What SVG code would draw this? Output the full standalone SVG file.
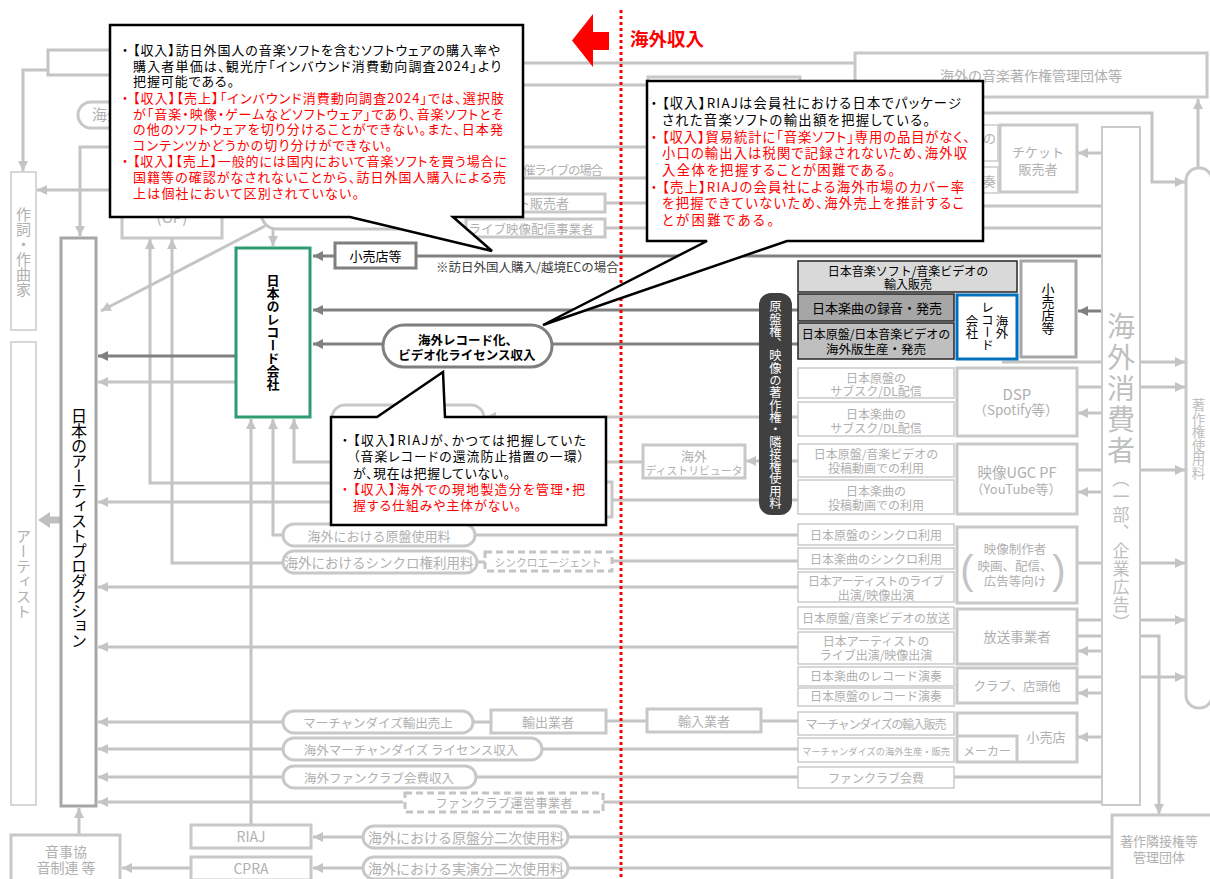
<svg xmlns="http://www.w3.org/2000/svg" width="1210" height="879" viewBox="0 0 1210 879">
<style>
text{font-family:"Noto Sans CJK JP","Noto Sans",sans-serif}
.l{fill:none;stroke:#c4c4c4;stroke-width:3}
.la{fill:none;stroke:#c4c4c4;stroke-width:3;marker-end:url(#ma)}
.d{fill:none;stroke:#808080;stroke-width:3}
.da{fill:none;stroke:#808080;stroke-width:3;marker-end:url(#md)}
.bx{fill:#fff;stroke:#c8c8c8;stroke-width:3}
.bt{fill:#fff;stroke:#cacaca;stroke-width:1.5}
.ds{fill:#fff;stroke:#c4c4c4;stroke-width:3;stroke-dasharray:7 4}
.g{fill:#b0b0b0}
.c{text-anchor:middle}
.v{writing-mode:vertical-rl;text-anchor:middle}
.co{fill:#fff;stroke:#000;stroke-width:2.5}
.ct{font-feature-settings:"palt" 1}
.r{fill:#ff0000}
</style>
<defs>
<marker id="ma" viewBox="0 0 10 10" refX="10" refY="5" markerWidth="10" markerHeight="10" markerUnits="userSpaceOnUse" orient="auto"><path d="M0,0L10,5L0,10z" fill="#c4c4c4"/></marker>
<marker id="md" viewBox="0 0 10 10" refX="10" refY="5" markerWidth="10" markerHeight="10" markerUnits="userSpaceOnUse" orient="auto"><path d="M0,0L10,5L0,10z" fill="#808080"/></marker>
</defs>
<rect width="1210" height="879" fill="#fff"/>

<g id="connectors">
<path class="l" d="M855 63H400V50H48V75H400V85H648"/>
<path class="la" d="M48 70H23V171"/>
<path class="la" d="M647 147H80V236"/>
<path class="la" d="M647 178H400V190H37"/>
<path class="l" d="M647 203H600"/>
<path class="l" d="M647 228H600"/>
<path class="l" d="M466 229H277Q261 229 259 205"/>
<path class="la" d="M265 226L101 311"/>
<path class="la" d="M273 229V246"/>
<path class="la" d="M560 483H150V239"/>
<path class="la" d="M283 563H172V239"/>
<path class="la" d="M236 382H98"/>
<path class="la" d="M560 502H98"/>
<path class="la" d="M798 587H98"/>
<path class="la" d="M798 647H98"/>
<path class="la" d="M283 722H98"/>
<path class="la" d="M283 749H98"/>
<path class="la" d="M283 777H98"/>
<path class="la" d="M403 802H98"/>
<path class="la" d="M79 835V808"/>
<path class="la" d="M191 868H122"/>
<path class="la" d="M251 825V419"/>
<path class="la" d="M283 535H273V419"/>
<path class="la" d="M643 462H294V419"/>
<path class="la" d="M798 461H746"/>
<path class="la" d="M798 417H486"/>
<path class="l" d="M798 500H612"/>
<path class="l" d="M798 535H475"/>
<path class="l" d="M798 561H612M485 562H477"/>
<path class="l" d="M473 722H491M606 721H647M761 721H798"/>
<path class="l" d="M542 749H798M476 777H798M603 802H1102M954 777H1102"/>
<path class="l" d="M568 837H1112M568 868H1112"/>
<path class="la" d="M363 837H313"/>
<path class="la" d="M363 868H313"/>
<path class="la" d="M1102 153H1078"/>
<path class="la" d="M900 113H1152V182H1185"/>
<path class="la" d="M1198 168V99"/>
<path class="l" d="M900 206H1102M900 228H1102"/>
<path class="la" d="M1002 362H1185"/>
<path class="la" d="M1077 387H1185"/>
<path class="la" d="M1102 413H1078"/>
<path class="la" d="M1077 470H1185"/>
<path class="la" d="M1102 492H1078"/>
<path class="la" d="M1077 563H1185"/>
<path class="la" d="M1077 620H1185"/>
<path class="la" d="M1077 636H1159V814"/>
<path class="la" d="M1102 651H1078"/>
<path class="la" d="M1077 677H1185"/>
<path class="la" d="M1102 693H1078"/>
<path class="la" d="M1102 737H1078"/>
<path class="da" d="M335 256H313"/>
<path class="d" d="M417 256H1102"/>
<path class="da" d="M798 310H313"/>
<path class="d" d="M552 344H798"/>
<path class="da" d="M383 344H313"/>
<path class="da" d="M1102 311H1078"/>
<path class="da" d="M236 356H98"/>
</g>

<g id="lyricist"><rect class="bt" x="11" y="172" width="25" height="158"/><text class="g v" x="23.5" y="252" font-size="15">作詞・作曲家</text></g>
<g id="artist"><rect class="bt" x="11" y="342" width="25" height="463"/><text class="g v" x="23.5" y="574" font-size="15">アーティスト</text>
<polygon points="38,520 50,512 50,516.5 61,516.5 61,523.5 50,523.5 50,528" fill="#bfbfbf"/></g>
<g id="production"><rect x="61" y="238" width="35" height="568" fill="#fff" stroke="#a6a6a6" stroke-width="3"/><text class="v" x="79" y="528" font-size="16" letter-spacing="-1" fill="#000">日本のアーティストプロダクション</text></g>
<g id="onjikyo"><rect class="bx" x="11" y="835" width="109" height="60"/><text class="g c" x="66" y="857" font-size="14">音事協</text><text class="g c" x="66" y="873" font-size="14">音制連 等</text></g>
<g id="riaj"><rect class="bx" x="191" y="825" width="120" height="23"/><text class="g c" x="251" y="842" font-size="14">RIAJ</text></g>
<g id="cpra"><rect class="bx" x="191" y="857" width="120" height="23"/><text class="g c" x="251" y="874" font-size="14">CPRA</text></g>
<g id="op"><rect class="bx" x="122" y="170" width="100" height="68"/><text class="g c" x="172" y="223" font-size="15">(OP)</text></g>
<g id="pill-top"><rect class="bx" x="78" y="102" width="120" height="26" rx="13"/><text class="g" x="92" y="120" font-size="15">海外</text></g>
<g id="ticket-seller-left"><rect class="bx" x="440" y="194" width="165" height="18"/><text class="g" x="569" y="208" font-size="13" text-anchor="end">ト販売者</text></g>
<g id="live-stream"><rect class="bx" x="466" y="219" width="139" height="18"/><text class="g c" x="531" y="233.5" font-size="12.5">ライブ映像配信事業者</text></g>
<g id="label-live"><text class="g" x="603" y="175" font-size="12.5" text-anchor="end" textLength="80">催ライブの場合</text></g>
<g id="label-ec"><text x="436" y="272" font-size="12.5" fill="#404040">※訪日外国人購入/越境ECの場合</text></g>
<g id="retail-left"><rect x="335" y="243" width="81" height="25" fill="#fff" stroke="#7f7f7f" stroke-width="3"/><text class="c" x="375.5" y="260.5" font-size="13">小売店等</text></g>
<g id="record-co"><rect x="236" y="248" width="74" height="169" fill="#fff" stroke="#2e9b70" stroke-width="3"/><text class="v" x="273" y="332" font-size="13" font-weight="bold">日本のレコード会社</text></g>
<g id="license"><rect x="383" y="325" width="169" height="42" rx="21" fill="#fff" stroke="#7f7f7f" stroke-width="3"/><text class="c" x="468" y="345" font-size="12.5" font-weight="bold">海外レコード化、</text><text class="c" x="467" y="360" font-size="12.5" font-weight="bold">ビデオ化ライセンス収入</text></g>
<g id="hidden-pill"><rect class="bx" x="332" y="405" width="152" height="26" rx="13"/></g>
<g id="hidden-box"><rect class="bx" x="560" y="482" width="52" height="35"/></g>
<g id="distributor"><rect class="bx" x="643" y="445" width="102" height="33"/><text class="g c" x="694" y="461" font-size="13">海外</text><text class="g c" x="694" y="474.5" font-size="11" textLength="97" lengthAdjust="spacingAndGlyphs">ディストリビュータ</text></g>
<g id="pill-master"><rect class="bx" x="283" y="524" width="192" height="22" rx="11"/><text class="g c" x="379" y="541" font-size="13">海外における原盤使用料</text></g>
<g id="pill-sync"><rect class="bx" x="283" y="551" width="194" height="22" rx="11"/><text class="g c" x="379" y="568" font-size="13.5">海外におけるシンクロ権利用料</text></g>
<g id="sync-agent"><rect class="ds" x="485" y="552" width="127" height="19"/><text class="g c" x="548" y="566.5" font-size="11" textLength="107" lengthAdjust="spacingAndGlyphs">シンクロエージェント</text></g>
<g id="pill-merch"><rect class="bx" x="283" y="711" width="190" height="22" rx="11"/><text class="g c" x="378" y="727.5" font-size="12.5">マーチャンダイズ輸出売上</text></g>
<g id="exporter"><rect class="bx" x="491" y="710" width="115" height="23"/><text class="g c" x="548" y="726.5" font-size="13">輸出業者</text></g>
<g id="importer"><rect class="bx" x="647" y="709" width="114" height="23"/><text class="g c" x="704" y="725.5" font-size="13">輸入業者</text></g>
<g id="pill-merch-license"><rect class="bx" x="283" y="738" width="259" height="22" rx="11"/><text class="g c" x="411" y="754.5" font-size="12.5">海外マーチャンダイズ ライセンス収入</text></g>
<g id="pill-fanclub"><rect class="bx" x="283" y="766" width="193" height="22" rx="11"/><text class="g c" x="379" y="782.5" font-size="12.5">海外ファンクラブ会費収入</text></g>
<g id="fanclub-op"><rect class="ds" x="405" y="793" width="198" height="19"/><text class="g c" x="504" y="808" font-size="12.5">ファンクラブ運営事業者</text></g>
<g id="pill-sec-master"><rect class="bx" x="363" y="826" width="205" height="22" rx="11"/><text class="g c" x="466" y="843" font-size="14">海外における原盤分二次使用料</text></g>
<g id="pill-sec-perf"><rect class="bx" x="363" y="857" width="205" height="22" rx="11"/><text class="g c" x="466" y="874" font-size="14">海外における実演分二次使用料</text></g>

<g id="rights-pill"><rect x="759" y="293" width="33" height="222" rx="12" fill="#404040"/><text class="v" x="775.5" y="405" font-size="12.3" fill="#fff">原盤権、映像の著作権・隣接権使用料</text></g>

<g id="hidden-top-box"><rect class="bx" x="648" y="77" width="152" height="50"/></g>
<g id="overseas-jasrac"><rect class="bx" x="855" y="53" width="352" height="44"/><text class="g c" x="1031" y="81" font-size="14">海外の音楽著作権管理団体等</text></g>
<g id="small-a"><rect class="bt" x="800" y="125" width="198" height="36"/><text class="g" x="996" y="143" font-size="13" text-anchor="end">の</text></g>
<g id="small-b"><rect class="bt" x="800" y="167" width="198" height="26"/><text class="g" x="996" y="186" font-size="13" text-anchor="end">奏</text></g>
<g id="ticket"><rect class="bx" x="1000" y="125" width="77" height="67"/><text class="g c" x="1038" y="157" font-size="13">チケット</text><text class="g c" x="1038" y="174" font-size="13">販売者</text></g>

<g id="import-sale"><rect x="798" y="261" width="219" height="31" fill="#d9d9d9" stroke="#262626" stroke-width="1.5"/><text class="c" x="908" y="276" font-size="12">日本音楽ソフト/音楽ビデオの</text><text class="c" x="908" y="289" font-size="12">輸入販売</text></g>
<g id="recording"><rect x="798" y="294" width="156" height="27" fill="#a6a6a6" stroke="#262626" stroke-width="1.5"/><text class="c" x="877" y="313" font-size="13">日本楽曲の録音・発売</text></g>
<g id="overseas-edition"><rect x="798" y="323" width="156" height="36" fill="#bfbfbf" stroke="#262626" stroke-width="1.5"/><text class="c" x="876" y="339" font-size="12">日本原盤/日本音楽ビデオの</text><text class="c" x="876" y="354" font-size="12.5">海外版生産・発売</text></g>
<g id="overseas-label"><rect x="957" y="295" width="60" height="64" fill="#fff" stroke="#0070c0" stroke-width="3"/><text class="v" x="1002" y="327" font-size="12.5">海外</text><text class="v" x="987.5" y="326" font-size="12.5">レコード</text><text class="v" x="972" y="327" font-size="12.5">会社</text></g>
<g id="retail-right"><rect x="1021" y="261" width="55" height="96" fill="#fff" stroke="#a6a6a6" stroke-width="3"/><text class="v" x="1048" y="309" font-size="13">小売店等</text></g>

<g id="col1">
<rect class="bt" x="798" y="368" width="156" height="30"/><text class="g c" x="876" y="382.5" font-size="12">日本原盤の</text><text class="g c" x="876" y="396" font-size="12">サブスク/DL配信</text>
<rect class="bt" x="798" y="402" width="156" height="34"/><text class="g c" x="876" y="419" font-size="12">日本楽曲の</text><text class="g c" x="876" y="433" font-size="12">サブスク/DL配信</text>
<rect class="bt" x="798" y="444" width="156" height="33"/><text class="g c" x="876" y="459" font-size="12">日本原盤/音楽ビデオの</text><text class="g c" x="876" y="472.5" font-size="12">投稿動画での利用</text>
<rect class="bt" x="798" y="480" width="156" height="34"/><text class="g c" x="876" y="496" font-size="12">日本楽曲の</text><text class="g c" x="876" y="509.5" font-size="12">投稿動画での利用</text>
<rect class="bt" x="798" y="524" width="156" height="21"/><text class="g c" x="876" y="540" font-size="12">日本原盤のシンクロ利用</text>
<rect class="bt" x="798" y="548" width="156" height="21"/><text class="g c" x="876" y="564" font-size="12">日本楽曲のシンクロ利用</text>
<rect class="bt" x="798" y="572" width="156" height="30"/><text class="g c" x="876" y="586" font-size="12" textLength="136">日本アーティストのライブ</text><text class="g c" x="876" y="600" font-size="12">出演/映像出演</text>
<rect class="bt" x="798" y="607" width="156" height="22"/><text class="g c" x="876" y="623" font-size="12" textLength="148">日本原盤/音楽ビデオの放送</text>
<rect class="bt" x="798" y="632" width="156" height="32"/><text class="g c" x="876" y="645.5" font-size="12">日本アーティストの</text><text class="g c" x="876" y="660" font-size="12">ライブ出演/映像出演</text>
<rect class="bt" x="798" y="667" width="156" height="19"/><text class="g c" x="876" y="681" font-size="12">日本楽曲のレコード演奏</text>
<rect class="bt" x="798" y="688" width="156" height="18"/><text class="g c" x="876" y="701" font-size="12">日本原盤のレコード演奏</text>
<rect class="bt" x="798" y="712" width="156" height="23"/><text class="g c" x="876" y="729" font-size="12" textLength="141">マーチャンダイズの輸入販売</text>
<rect class="bt" x="798" y="738" width="156" height="24"/><text class="g c" x="876" y="755" font-size="9.5" textLength="148" lengthAdjust="spacingAndGlyphs">マーチャンダイズの海外生産・販売</text>
<rect class="bt" x="798" y="767" width="156" height="21"/><text class="g c" x="876" y="783" font-size="12">ファンクラブ会費</text>
</g>

<g id="dsp"><rect class="bx" x="957" y="368" width="120" height="68"/><text class="g c" x="1017" y="400" font-size="15">DSP</text><text class="g c" x="1016" y="415" font-size="13.5">（Spotify等）</text></g>
<g id="ugc"><rect class="bx" x="957" y="444" width="120" height="70"/><text class="g c" x="1017" y="478" font-size="14.5">映像UGC PF</text><text class="g c" x="1016" y="494" font-size="13">（YouTube等）</text></g>
<g id="producer"><rect class="bx" x="957" y="527" width="120" height="76"/><text class="g c" x="1015" y="554" font-size="12.5">映像制作者</text><text class="g c" x="1015" y="571" font-size="12.5">映画、配信、</text><text class="g c" x="1015" y="586" font-size="12.5">広告等向け</text>
<text class="c" x="967" y="584" font-size="40" fill="#c4c4c4" style="font-family:'Liberation Sans',sans-serif">(</text><text class="c" x="1059" y="584" font-size="40" fill="#c4c4c4" style="font-family:'Liberation Sans',sans-serif">)</text></g>
<g id="broadcaster"><rect class="bx" x="957" y="609" width="120" height="55"/><text class="g c" x="1017" y="642" font-size="13.5">放送事業者</text></g>
<g id="club"><rect class="bx" x="957" y="668" width="120" height="35"/><text class="g c" x="1017" y="691" font-size="12.5">クラブ、店頭他</text></g>
<g id="retailer"><rect class="bx" x="957" y="713" width="120" height="49"/><path d="M957 736H1017V762" fill="none" stroke="#c8c8c8" stroke-width="3"/><text class="g c" x="1046" y="742" font-size="13">小売店</text><text class="g c" x="987" y="756" font-size="12">メーカー</text></g>

<g id="consumers"><rect x="1102" y="127" width="38" height="678" fill="#fff" stroke="#cacaca" stroke-width="2"/><text class="v" x="1121" y="390" font-size="28" letter-spacing="3" fill="#bfbfbf">海外消費者</text><text class="v" x="1121" y="551" font-size="17" letter-spacing="1" fill="#bfbfbf">（一部、企業広告）</text></g>
<g id="copyright-fee"><rect class="bx" x="1186" y="168" width="26" height="540" rx="12.5"/><text class="v" x="1198.5" y="439" font-size="13.5" fill="#bfbfbf">著作権使用料</text></g>
<g id="neighbor-org"><rect class="bx" x="1112" y="815" width="110" height="70"/><text class="g c" x="1159" y="846" font-size="13">著作隣接権等</text><text class="g c" x="1159" y="862" font-size="13">管理団体</text></g>

<g id="overseas-income">
<line x1="621" y1="10" x2="621" y2="879" stroke="#ff0000" stroke-width="3" stroke-dasharray="3 3"/>
<polygon points="572,40.5 593,14 593,32 609,32 609,50 593,50 593,67" fill="#ff0000"/>
<text x="630" y="46" font-size="18.5" font-weight="bold" fill="#ff0000">海外収入</text>
</g>

<g id="callout-1">
<path class="co" d="M110 25H523V217H453L492 251L350 217H110Z"/>
<g class="ct" font-size="13">
<text class="c" x="125" y="54.5">・</text>
<text x="133" y="54.5" textLength="367">【収入】訪日外国人の音楽ソフトを含むソフトウェアの購入率や</text>
<text x="133" y="70.5" textLength="368">購入者単価は、観光庁「インバウンド消費動向調査2024」より</text>
<text x="133" y="86" textLength="101">把握可能である。</text>
<text class="c r" x="125" y="102.5">・</text>
<text class="r" x="133" y="102.5" textLength="371">【収入】【売上】「インバウンド消費動向調査2024」では、選択肢</text>
<text class="r" x="133" y="118.5" textLength="370">が「音楽・映像・ゲームなどソフトウェア」であり、音楽ソフトとそ</text>
<text class="r" x="133" y="134" textLength="370">の他のソフトウェアを切り分けることができない。また、日本発</text>
<text class="r" x="133" y="150" textLength="259">コンテンツかどうかの切り分けができない。</text>
<text class="c r" x="125" y="166">・</text>
<text class="r" x="133" y="166" textLength="374">【収入】【売上】一般的には国内において音楽ソフトを買う場合に</text>
<text class="r" x="133" y="181.5" textLength="373">国籍等の確認がなされないことから、訪日外国人購入による売</text>
<text class="r" x="133" y="197.5" textLength="226">上は個社において区別されていない。</text>
</g>
</g>

<g id="callout-2">
<path class="co" d="M647 81H983V241H787L543 325L707 241H647Z"/>
<g class="ct" font-size="13.3">
<text class="c" x="654" y="108">・</text>
<text x="662" y="108" textLength="299">【収入】RIAJは会員社における日本でパッケージ</text>
<text x="662" y="125" textLength="268">された音楽ソフトの輸出額を把握している。</text>
<text class="c r" x="654" y="141.5">・</text>
<text class="r" x="662" y="141.5" textLength="308">【収入】貿易統計に「音楽ソフト」専用の品目がなく、</text>
<text class="r" x="662" y="158" textLength="305">小口の輸出入は税関で記録されないため、海外収</text>
<text class="r" x="662" y="175" textLength="233">入全体を把握することが困難である。</text>
<text class="c r" x="654" y="191.5">・</text>
<text class="r" x="662" y="191.5" textLength="302">【売上】RIAJの会員社による海外市場のカバー率</text>
<text class="r" x="662" y="208" textLength="302">を把握できていないため、海外売上を推計するこ</text>
<text class="r" x="662" y="225" textLength="112">とが困難である。</text>
</g>
</g>

<g id="callout-3">
<path class="co" d="M331 417H377L443 372L445 417H606V525H331Z"/>
<g class="ct" font-size="12.8">
<text class="c" x="345" y="445">・</text>
<text x="353" y="445" textLength="233">【収入】RIAJが、かつては把握していた</text>
<text x="353" y="461" textLength="231">（音楽レコードの還流防止措置の一環）</text>
<text x="353" y="477.5" textLength="157">が、現在は把握していない。</text>
<text class="c r" x="345" y="494">・</text>
<text class="r" x="353" y="494" textLength="232">【収入】海外での現地製造分を管理・把</text>
<text class="r" x="353" y="510" textLength="168">握する仕組みや主体がない。</text>
</g>
</g>
</svg>
